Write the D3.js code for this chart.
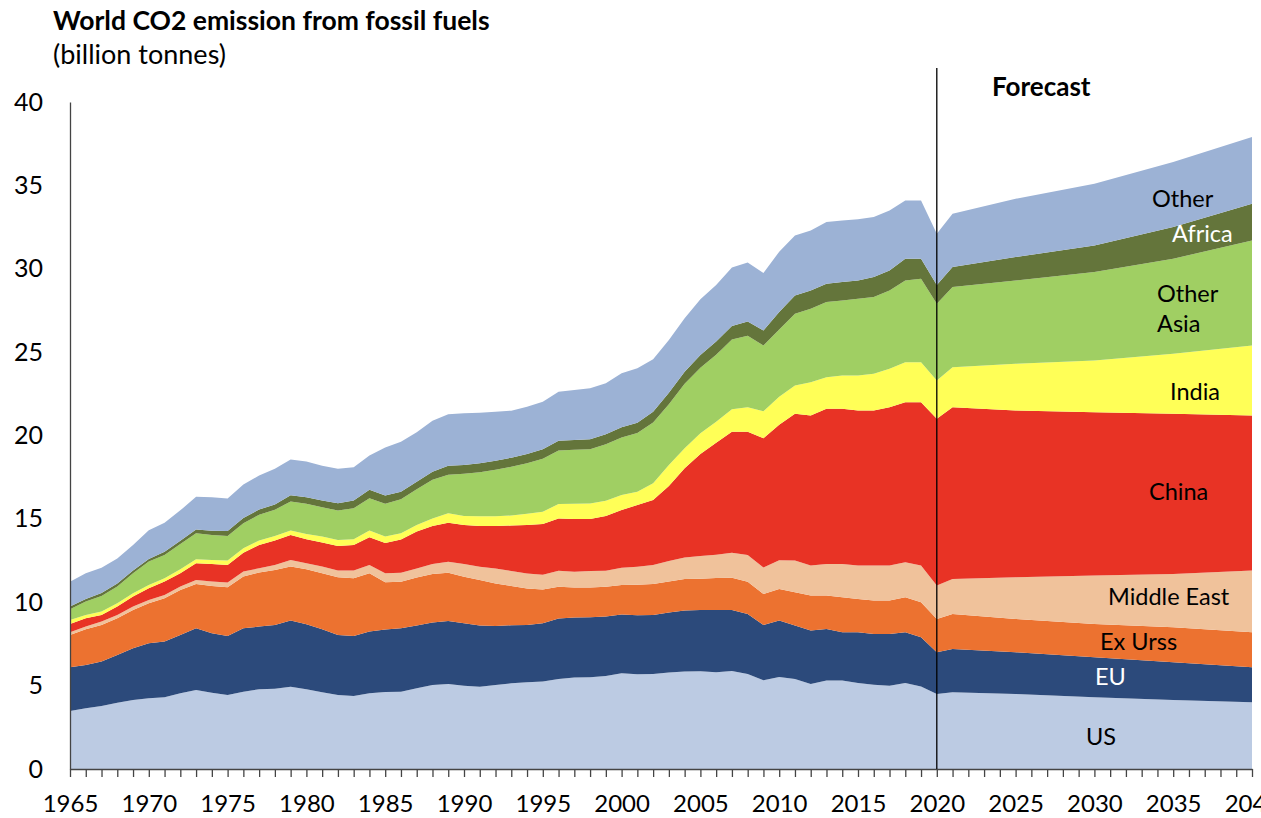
<!DOCTYPE html>
<html>
<head>
<meta charset="utf-8">
<script src="https://cdn.jsdelivr.net/npm/d3@7"></script>
<style>
  body { margin: 0; background: #fff; }
  svg text { font-family: Lato, "Open Sans", sans-serif; fill: #000; }
</style>
</head>
<body>
<svg id="co2-chart" width="1261" height="818"></svg>
<script>
// years: history is yearly up to 2021, forecast read at 5-year marks
const years = [1965,1966,1967,1968,1969,1970,1971,1972,1973,1974,
  1975,1976,1977,1978,1979,1980,1981,1982,1983,1984,
  1985,1986,1987,1988,1989,1990,1991,1992,1993,1994,
  1995,1996,1997,1998,1999,2000,2001,2002,2003,2004,
  2005,2006,2007,2008,2009,2010,2011,2012,2013,2014,
  2015,2016,2017,2018,2019,2020,2021,
  2025,2030,2035,2040];

// billion tonnes
const us = [3.48,3.64,3.78,3.98,4.14,4.24,4.30,4.54,4.74,4.58,
  4.44,4.64,4.78,4.82,4.94,4.78,4.60,4.44,4.38,4.54,
  4.62,4.64,4.84,5.04,5.10,5.00,4.94,5.04,5.14,5.20,
  5.24,5.40,5.48,5.50,5.58,5.74,5.68,5.70,5.78,5.84,
  5.86,5.80,5.88,5.70,5.32,5.52,5.40,5.10,5.30,5.30,
  5.15,5.05,5.00,5.15,4.95,4.50,4.60,
  4.50,4.30,4.14,4.00];
const eu = [2.62,2.60,2.66,2.86,3.10,3.30,3.34,3.50,3.70,3.56,
  3.54,3.80,3.76,3.82,3.96,3.90,3.78,3.60,3.60,3.70,
  3.74,3.80,3.76,3.74,3.78,3.74,3.66,3.54,3.48,3.44,
  3.50,3.62,3.60,3.60,3.56,3.52,3.54,3.54,3.60,3.66,
  3.68,3.74,3.66,3.60,3.32,3.38,3.20,3.20,3.10,2.90,
  3.05,3.05,3.10,3.05,2.95,2.50,2.60,
  2.50,2.40,2.26,2.10];
const exUrss = [1.94,2.14,2.20,2.20,2.30,2.40,2.60,2.70,2.66,2.84,
  2.92,3.10,3.24,3.30,3.24,3.30,3.36,3.46,3.46,3.50,
  2.84,2.79,2.89,2.91,2.89,2.79,2.73,2.55,2.35,2.19,
  2.03,1.91,1.81,1.79,1.79,1.77,1.83,1.85,1.87,1.89,
  1.87,1.91,1.93,1.93,1.85,1.90,2.00,2.10,2.00,2.10,
  2.00,2.00,2.00,2.10,2.10,2.00,2.10,
  2.00,2.00,2.10,2.10];
const middleEast = [0.16,0.16,0.20,0.20,0.20,0.20,0.20,0.20,0.24,0.26,
  0.28,0.30,0.26,0.30,0.40,0.36,0.40,0.40,0.46,0.50,
  0.54,0.54,0.54,0.60,0.66,0.76,0.80,0.90,0.90,0.90,
  0.88,0.96,0.94,0.98,0.96,1.04,1.08,1.14,1.22,1.30,
  1.36,1.40,1.50,1.60,1.60,1.72,1.90,1.80,1.90,2.00,
  2.00,2.10,2.10,2.10,2.20,2.00,2.10,
  2.50,2.90,3.20,3.70];
const china = [0.50,0.50,0.40,0.50,0.60,0.70,0.80,0.80,1.00,1.06,
  1.06,1.13,1.40,1.46,1.50,1.44,1.44,1.48,1.54,1.66,
  1.81,2.00,2.22,2.28,2.34,2.34,2.44,2.54,2.73,2.90,
  3.04,3.14,3.16,3.12,3.28,3.46,3.70,3.90,4.50,5.34,
  6.12,6.72,7.26,7.40,7.74,8.13,8.80,9.00,9.30,9.30,
  9.30,9.30,9.50,9.60,9.80,10.00,10.30,
  10.00,9.80,9.60,9.30];
const india = [0.24,0.20,0.20,0.20,0.20,0.20,0.20,0.24,0.24,0.24,
  0.26,0.27,0.26,0.28,0.26,0.32,0.36,0.36,0.34,0.40,
  0.40,0.37,0.38,0.46,0.56,0.54,0.58,0.58,0.60,0.67,
  0.74,0.86,0.91,0.93,0.92,0.90,0.80,1.00,1.26,1.20,
  1.24,1.26,1.34,1.46,1.62,1.67,1.70,2.00,1.90,2.00,
  2.10,2.20,2.30,2.40,2.40,2.30,2.40,
  2.80,3.10,3.60,4.20];
const otherAsia = [0.64,0.80,0.94,1.00,1.20,1.40,1.40,1.52,1.56,1.50,
  1.48,1.50,1.54,1.56,1.74,1.80,1.76,1.76,1.86,1.94,
  1.95,2.04,2.15,2.32,2.32,2.53,2.65,2.80,2.92,3.03,
  3.17,3.21,3.24,3.25,3.38,3.45,3.52,3.65,3.65,3.87,
  3.94,4.02,4.18,4.29,3.95,4.03,4.30,4.40,4.50,4.50,
  4.60,4.60,4.70,4.90,5.00,4.60,4.80,
  5.00,5.30,5.70,6.30];
const africa = [0.16,0.15,0.18,0.19,0.17,0.16,0.19,0.19,0.23,0.25,
  0.30,0.32,0.32,0.32,0.38,0.40,0.40,0.44,0.46,0.50,
  0.50,0.45,0.45,0.48,0.54,0.53,0.53,0.54,0.55,0.56,
  0.57,0.59,0.59,0.60,0.60,0.61,0.62,0.65,0.69,0.73,
  0.76,0.78,0.82,0.85,0.90,1.05,1.10,1.10,1.10,1.10,
  1.10,1.20,1.20,1.30,1.20,1.13,1.20,
  1.40,1.60,1.90,2.20];
const other = [1.49,1.55,1.51,1.49,1.53,1.72,1.74,1.82,1.95,2.00,
  1.94,2.00,2.04,2.14,2.14,2.14,2.08,2.06,2.00,2.06,
  2.88,3.00,2.97,3.06,3.08,3.10,3.04,2.94,2.82,2.84,
  2.86,2.94,3.00,3.06,3.06,3.24,3.26,3.14,3.16,3.20,
  3.34,3.40,3.50,3.54,3.45,3.62,3.60,3.60,3.70,3.70,
  3.67,3.60,3.60,3.50,3.50,3.07,3.20,
  3.50,3.70,3.90,4.00];

const seriesKeys = ['US', 'EU', 'Ex Urss', 'Middle East', 'China', 'India', 'Other Asia', 'Africa', 'Other'];
const seriesValues = [us, eu, exUrss, middleEast, china, india, otherAsia, africa, other];
const seriesColors = ['#bccbe3', '#2c4a7b', '#ec7230', '#f0c29b', '#e83325', '#ffff57', '#a0cf63', '#64753b', '#9cb2d5'];
const yTicks = [0, 5, 10, 15, 20, 25, 30, 35, 40];
const forecastYear = 2020;

// area labels: [text, x, baseline y, colour]
const areaLabels = [
  ['Other', 1152, 207, '#000'],
  ['Africa', 1172, 242, '#fff'],
  ['Other', 1157, 302, '#000'],
  ['Asia', 1157, 332, '#000'],
  ['India', 1170, 400, '#000'],
  ['China', 1149, 500, '#000'],
  ['Middle East', 1108, 605, '#000'],
  ['Ex Urss', 1100, 650, '#000'],
  ['EU', 1095, 685, '#fff'],
  ['US', 1086, 745, '#000']
];

let table = years.map(function (yr, i) {
  let row = {year: yr};
  seriesKeys.forEach(function (k, j) { row[k] = seriesValues[j][i]; });
  return row;
});

let svg = d3.select('#co2-chart');

let x = d3.scaleLinear().domain([1965, 2040]).range([70, 1252]);
let y = d3.scaleLinear().domain([0, 40]).range([769, 102]);

let stack = d3.stack().keys(seriesKeys);
let layers = stack(table);

let area = d3.area()
  .x(d => x(d.data.year))
  .y0(d => y(d[0]))
  .y1(d => y(d[1]));

svg.append('g')
  .selectAll('path')
  .data(layers)
  .enter().append('path')
  .attr('fill', (d, i) => seriesColors[i])
  .attr('d', area);

// axes
let xAxis = d3.axisBottom(x)
  .tickValues(d3.range(1965, 2041))
  .tickFormat(d => d % 5 === 0 ? String(d) : '')
  .tickSize(8)
  .tickSizeOuter(0)
  .tickPadding(18);

let gx = svg.append('g')
  .attr('transform', 'translate(0,769)')
  .call(xAxis);
gx.selectAll('text').attr('font-size', 24).attr('font-family', 'Lato, sans-serif').attr('fill', '#000');
gx.selectAll('line').attr('stroke', '#444').attr('stroke-width', 1.3);
gx.select('.domain').attr('stroke', '#444').attr('stroke-width', 1.3);

let yAxis = d3.axisLeft(y)
  .tickValues(yTicks)
  .tickSize(0)
  .tickPadding(27);

let gy = svg.append('g')
  .attr('transform', 'translate(70,0)')
  .call(yAxis);
gy.selectAll('text').attr('font-size', 25).attr('font-family', 'Lato, sans-serif').attr('fill', '#000');
gy.select('.domain').attr('stroke', '#444').attr('stroke-width', 1.3);

// forecast divider
svg.append('line')
  .attr('x1', x(forecastYear)).attr('x2', x(forecastYear))
  .attr('y1', 68).attr('y2', 769)
  .attr('stroke', '#000')
  .attr('stroke-width', 1.3);

svg.append('text')
  .attr('x', 992).attr('y', 96)
  .attr('font-size', 26)
  .attr('font-weight', 'bold')
  .text('Forecast');

// titles
svg.append('text')
  .attr('x', 53).attr('y', 30)
  .attr('font-size', 26.5)
  .attr('font-weight', 'bold')
  .text('World CO2 emission from fossil fuels');
svg.append('text')
  .attr('x', 53).attr('y', 64)
  .attr('font-size', 27)
  .text('(billion tonnes)');

svg.append('g')
  .selectAll('text')
  .data(areaLabels)
  .enter().append('text')
  .attr('x', d => d[1])
  .attr('y', d => d[2])
  .attr('font-size', 23.5)
  .style('fill', d => d[3])
  .text(d => d[0]);
</script>
</body>
</html>
